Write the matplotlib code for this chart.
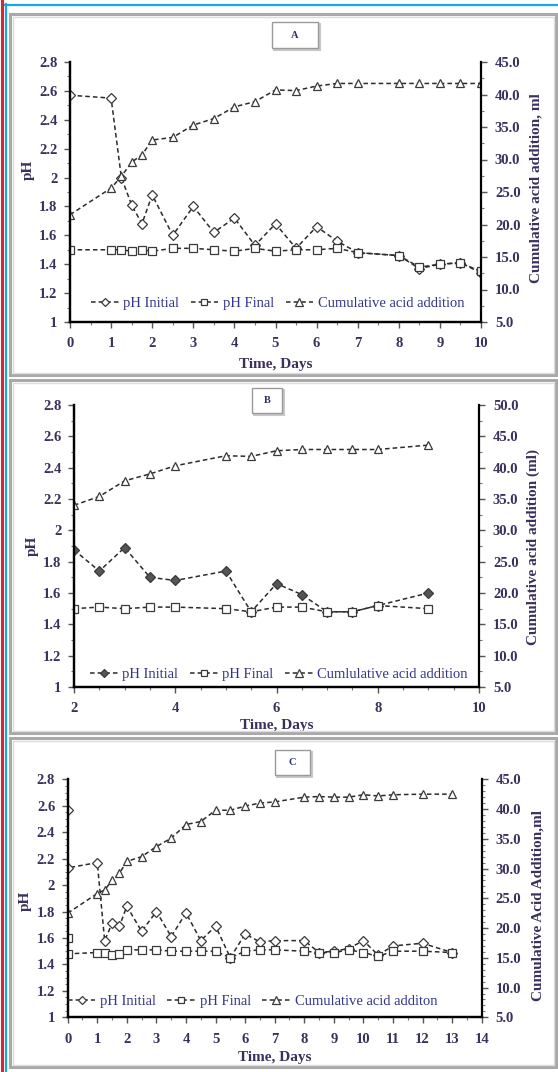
"""pH initial / final and cumulative acid addition over time, three panels (A, B, C)."""
import matplotlib

matplotlib.use("Agg")
import matplotlib.pyplot as plt  # noqa: E402
from matplotlib.patches import Rectangle  # noqa: E402
from matplotlib.lines import Line2D  # noqa: E402
from matplotlib.ticker import MultipleLocator, FuncFormatter  # noqa: E402

W, H = 558, 1072

# --- Panel A
a_days = [0, 1, 1.25, 1.5, 1.75, 2, 2.5, 3, 3.5, 4, 4.5, 5, 5.5, 6, 6.5, 7, 8, 8.5, 9, 9.5, 10]
a_ph_initial = [2.57, 2.55, 2.00, 1.81, 1.68, 1.88, 1.60, 1.80, 1.62, 1.72, 1.53, 1.68, 1.51,
                1.66, 1.56, 1.48, 1.46, 1.37, 1.40, 1.41, 1.34]
a_ph_final = [1.50, 1.50, 1.50, 1.49, 1.50, 1.49, 1.51, 1.51, 1.50, 1.49, 1.51, 1.49, 1.50,
              1.50, 1.51, 1.48, 1.46, 1.38, 1.40, 1.41, 1.35]
a_cum_acid = [21.5, 25.6, 27.4, 29.6, 30.7, 33.0, 33.4, 35.3, 36.3, 38.1, 38.9, 40.7, 40.6,
              41.3, 41.7, 41.7, 41.7, 41.7, 41.7, 41.7, 41.7]

# --- Panel B
b_days = [2, 2.5, 3, 3.5, 4, 5, 5.5, 6, 6.5, 7, 7.5, 8, 9]
b_ph_initial = [1.875, 1.74, 1.89, 1.70, 1.68, 1.74, 1.48, 1.66, 1.59, 1.48, 1.48, 1.52, 1.60]
b_ph_final = [1.50, 1.51, 1.50, 1.51, 1.51, 1.50, 1.48, 1.51, 1.51, 1.48, 1.48, 1.52, 1.50]
b_cum_acid = [34.0, 35.4, 37.9, 39.0, 40.3, 41.9, 41.8, 42.7, 42.9, 42.9, 42.9, 42.9, 43.6]

# --- Panel C (day 0 was measured twice for pH)
c_days = [0, 0, 1, 1.25, 1.5, 1.75, 2, 2.5, 3, 3.5, 4, 4.5, 5, 5.5, 6, 6.5, 7, 8, 8.5, 9,
          9.5, 10, 10.5, 11, 12, 13]
c_ph_initial = [2.57, 2.13, 2.17, 1.58, 1.71, 1.69, 1.84, 1.65, 1.80, 1.61, 1.79, 1.58, 1.69,
                1.45, 1.63, 1.57, 1.58, 1.58, 1.49, 1.50, 1.52, 1.58, 1.47, 1.54, 1.56, 1.49]
c_ph_final = [1.60, 1.48, 1.49, 1.49, 1.47, 1.48, 1.51, 1.51, 1.51, 1.50, 1.50, 1.50, 1.50,
              1.45, 1.50, 1.51, 1.51, 1.50, 1.49, 1.49, 1.51, 1.49, 1.46, 1.50, 1.50, 1.49]
c_cum_days = [0, 1, 1.25, 1.5, 1.75, 2, 2.5, 3, 3.5, 4, 4.5, 5, 5.5, 6, 6.5, 7, 8, 8.5, 9,
              9.5, 10, 10.5, 11, 12, 13]
c_cum_acid = [22.5, 25.8, 26.4, 28.0, 29.2, 31.2, 32.0, 33.7, 35.1, 37.4, 37.9, 39.8, 39.8,
              40.5, 41.0, 41.2, 42.0, 42.1, 42.0, 42.0, 42.4, 42.2, 42.4, 42.5, 42.5]

SERIF = ["Liberation Serif", "DejaVu Serif"]
TXT = "#3b2f5c"
LEG_TXT = "#34358a"
LINE = dict(color="#2b2b2b", lw=1.1, ls=(0, (3, 2)), mec="#3a3a3a", mfc="white", mew=0.9)

fig = plt.figure(figsize=(W / 100, H / 100), dpi=100)


def fx(px):
    return px / W


def fy(py):
    return 1 - py / H


def frame(x0, y0, x1, y1, **kw):
    fig.add_artist(Rectangle((fx(x0), fy(y1)), (x1 - x0) / W, (y1 - y0) / H,
                             transform=fig.transFigure, fill=False, **kw))


def panel(box, axpos, letter, letter_box, days, ph_i, ph_f, cum_days, cum, xlim, xmajor,
          ylim2, y2minor, yminor, right_label, leg_labels, leg_pos, ylab_y, y2lab_y,
          xlab_y, ini_face="white"):
    # chart area (grey double border)
    frame(*box, edgecolor="#a9a9a9", lw=2.2)
    frame(box[0] + 2.5, box[1] + 2.5, box[2] - 2.5, box[3] - 2.5, edgecolor="#dcdcdc", lw=1)

    left, top, right, bottom = axpos
    ax = fig.add_axes([fx(left), fy(bottom), (right - left) / W, (bottom - top) / H])
    ax2 = ax.twinx()

    ax.plot(days, ph_i, marker="D", ms=5, **{**LINE, "mfc": ini_face})
    ax.plot(days, ph_f, marker="s", ms=5.5, **LINE)
    ax2.plot(cum_days, cum, marker="^", ms=6, **LINE)

    ax.set_xlim(*xlim)
    ax.set_ylim(1, 2.8)
    ax2.set_ylim(*ylim2)
    ax.xaxis.set_major_locator(MultipleLocator(xmajor))
    ax.xaxis.set_minor_locator(MultipleLocator(0.5))
    ax.yaxis.set_major_locator(MultipleLocator(0.2))
    ax.yaxis.set_minor_locator(MultipleLocator(yminor))
    ax2.yaxis.set_major_locator(MultipleLocator(5))
    ax2.yaxis.set_minor_locator(MultipleLocator(y2minor))
    ax.yaxis.set_major_formatter(FuncFormatter(lambda v, p: f"{v:g}"))
    ax.xaxis.set_major_formatter(FuncFormatter(lambda v, p: f"{v:g}"))
    ax2.yaxis.set_major_formatter(FuncFormatter(lambda v, p: f"{v:.1f}"))

    for a in (ax, ax2):
        a.spines["top"].set_visible(False)
        for s in ("left", "right", "bottom"):
            a.spines[s].set_linewidth(1.6)
            a.spines[s].set_color("black")
        a.tick_params(which="major", direction="out", length=4, width=1, color="#555")
        a.tick_params(which="minor", direction="out", length=2.5, width=0.8, color="#777")
        for lab in a.get_xticklabels() + a.get_yticklabels():
            lab.set_fontfamily(SERIF)
            lab.set_fontweight("bold")
            lab.set_fontsize(10.5)
            lab.set_color(TXT)
    ax.spines["right"].set_visible(False)
    ax.tick_params(axis="x", which="both", pad=7)
    ax.tick_params(axis="y", which="both", pad=5)
    ax2.tick_params(axis="y", which="both", pad=6)

    ax.set_ylabel("pH", fontfamily=SERIF, fontweight="bold", fontsize=11, color=TXT,
                  va="center")
    ax.yaxis.set_label_coords(-0.102, ylab_y)
    ax2.set_ylabel(right_label, fontfamily=SERIF, fontweight="bold", fontsize=11,
                   color=TXT, va="center")
    ax2.yaxis.set_label_coords(1.135, y2lab_y)
    ax.set_xlabel("Time, Days", fontfamily=SERIF, fontweight="bold", fontsize=11, color=TXT,
                  va="center")
    ax.xaxis.set_label_coords(0.5, xlab_y)

    handles = [Line2D([], [], marker=m, ms=s, **{**LINE, "mfc": f})
               for m, s, f in (("D", 4.5, ini_face), ("s", 5, "white"), ("^", 5.5, "white"))]
    leg = ax2.legend(handles, leg_labels, loc="center", bbox_to_anchor=leg_pos, ncol=3,
                     frameon=False, handlelength=1.9, handletextpad=0.3, columnspacing=0.8,
                     borderaxespad=0, prop={"family": SERIF, "size": 10.5})
    for t in leg.get_texts():
        t.set_color(LEG_TXT)

    # small title box
    bx0, by0, bx1, by1 = letter_box
    frame(bx0 + 1.5, by0 + 1.5, bx1 + 1.5, by1 + 1.5, edgecolor="#c8c8c8", lw=1.5)
    fig.add_artist(Rectangle((fx(bx0), fy(by1)), (bx1 - bx0) / W, (by1 - by0) / H,
                             transform=fig.transFigure, facecolor="white",
                             edgecolor="#9a9a9a", lw=1))
    fig.text(fx((bx0 + bx1) / 2), fy((by0 + by1) / 2), letter, ha="center", va="center",
             fontfamily=SERIF, fontweight="bold", fontsize=7.5, color="#2b3070")


panel(box=(10, 14, 556, 375), axpos=(70, 62, 481, 322), letter="A",
      letter_box=(272, 22, 318, 48), days=a_days, ph_i=a_ph_initial, ph_f=a_ph_final,
      cum_days=a_days, cum=a_cum_acid, xlim=(0, 10), xmajor=1, ylim2=(5, 45), y2minor=2.5,
      yminor=0.1, right_label="Cumulative acid addition, ml",
      leg_labels=["pH Initial", "pH Final", "Cumulative acid addition"],
      leg_pos=(0.505, 0.073), ylab_y=0.585, y2lab_y=0.515, xlab_y=-0.165)

panel(box=(10, 380, 556, 733), axpos=(74, 405, 479, 687), letter="B",
      letter_box=(252, 388, 282, 413), days=b_days, ph_i=b_ph_initial, ph_f=b_ph_final,
      cum_days=b_days, cum=b_cum_acid, xlim=(2, 10), xmajor=2, ylim2=(5, 50), y2minor=2.5,
      yminor=0.1, right_label="Cumulative acid addition (ml)",
      leg_labels=["pH Initial", "pH Final", "Cumlulative acid addition"],
      leg_pos=(0.506, 0.046), ylab_y=0.5, y2lab_y=0.495, xlab_y=-0.135, ini_face="#555555")

panel(box=(10, 738, 556, 1067), axpos=(67.7, 779.3, 481.7, 1017.3), letter="C",
      letter_box=(275, 750, 310, 775), days=c_days, ph_i=c_ph_initial, ph_f=c_ph_final,
      cum_days=c_cum_days, cum=c_cum_acid, xlim=(0, 14), xmajor=1, ylim2=(5, 45), y2minor=1,
      yminor=0.05, right_label="Cumulative Acid Addition,ml",
      leg_labels=["pH Initial", "pH Final", "Cumulative acid additon"],
      leg_pos=(0.446, 0.066), ylab_y=0.49, y2lab_y=0.47, xlab_y=-0.167)

# page edge lines
fig.add_artist(Line2D([fx(2), fx(2)], [fy(0), fy(H)], transform=fig.transFigure,
                      color="#d6262f", lw=2.2))
fig.add_artist(Line2D([fx(6), fx(6)], [fy(4), fy(H)], transform=fig.transFigure,
                      color="#1aa6e6", lw=1.6))
fig.add_artist(Line2D([fx(5), fx(W)], [fy(5), fy(5)], transform=fig.transFigure,
                      color="#1aa6e6", lw=1.6))

fig.savefig("out.png", dpi=100)
plt.close(fig)
